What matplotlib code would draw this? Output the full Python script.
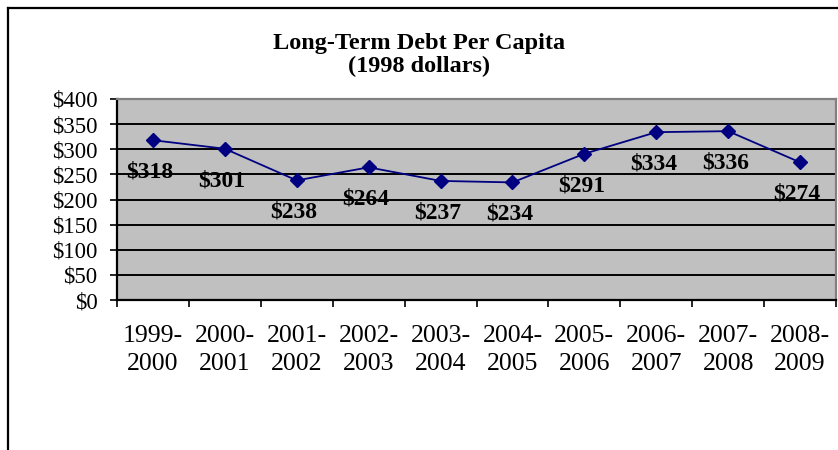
import numpy as np
import matplotlib
matplotlib.use("Agg")
import matplotlib.pyplot as plt
from matplotlib.lines import Line2D

# Long-term debt per capita, constant 1998 dollars
years = ["1999-\n2000", "2000-\n2001", "2001-\n2002", "2002-\n2003", "2003-\n2004",
         "2004-\n2005", "2005-\n2006", "2006-\n2007", "2007-\n2008", "2008-\n2009"]
debt = [318, 301, 238, 264, 237, 234, 291, 334, 336, 274]
yticks = [0, 50, 100, 150, 200, 250, 300, 350, 400]

plt.rcParams['font.family'] = ['Liberation Serif', 'DejaVu Serif']

fig = plt.figure(figsize=(8.38, 4.5), dpi=100)
ax = fig.add_axes([117 / 838, 1 - 300 / 450, (836 - 117) / 838, 201 / 450])

x = np.arange(len(debt))
ax.set_facecolor('#c0c0c0')
ax.plot(x, debt, color='#000080', lw=1.3, marker='D', ms=7, zorder=3)

for xi, v in zip(x, debt):
    ax.annotate(f"${v}", (xi, v), xytext=(-2, -23), textcoords='offset points',
                ha='center', va='center', fontsize=17, fontweight='bold', zorder=4)

ax.set_xlim(-0.5, len(debt) - 0.5)
ax.set_ylim(0, 400)
ax.set_yticks(yticks)
ax.set_yticklabels([f"${t}" for t in yticks], fontsize=16.5)
ax.yaxis.grid(True, color='black', lw=1.4)
ax.set_axisbelow(True)
ax.tick_params(axis='y', length=5, width=1.2, pad=9, direction='out')

# category labels in the middle, tick marks on the boundaries
ax.set_xticks(x)
ax.set_xticklabels(years, fontsize=18.5, linespacing=1.35)
ax.tick_params(axis='x', which='major', length=0, pad=18)
ax.set_xticks(np.arange(-0.5, len(debt)), minor=True)
ax.tick_params(axis='x', which='minor', length=5, width=1.2, direction='out')

for side in ['left', 'bottom']:
    ax.spines[side].set_color('black')
    ax.spines[side].set_linewidth(1.6)
for side in ['top', 'right']:
    ax.spines[side].set_color('#808080')
    ax.spines[side].set_linewidth(1.6)

fig.text(0.5, 1 - 43 / 450, "Long-Term Debt Per Capita", ha='center', va='center',
         fontsize=17.5, fontweight='bold')
fig.text(0.5, 1 - 66 / 450, "(1998 dollars)", ha='center', va='center',
         fontsize=17.5, fontweight='bold')

# chart frame
fig.add_artist(Line2D([8 / 838, 8 / 838], [0, 1 - 8 / 450], color='black', lw=1.6,
                      transform=fig.transFigure))
fig.add_artist(Line2D([8 / 838, 1], [1 - 8 / 450, 1 - 8 / 450], color='black', lw=1.6,
                      transform=fig.transFigure))

fig.savefig("out.png", dpi=100)
